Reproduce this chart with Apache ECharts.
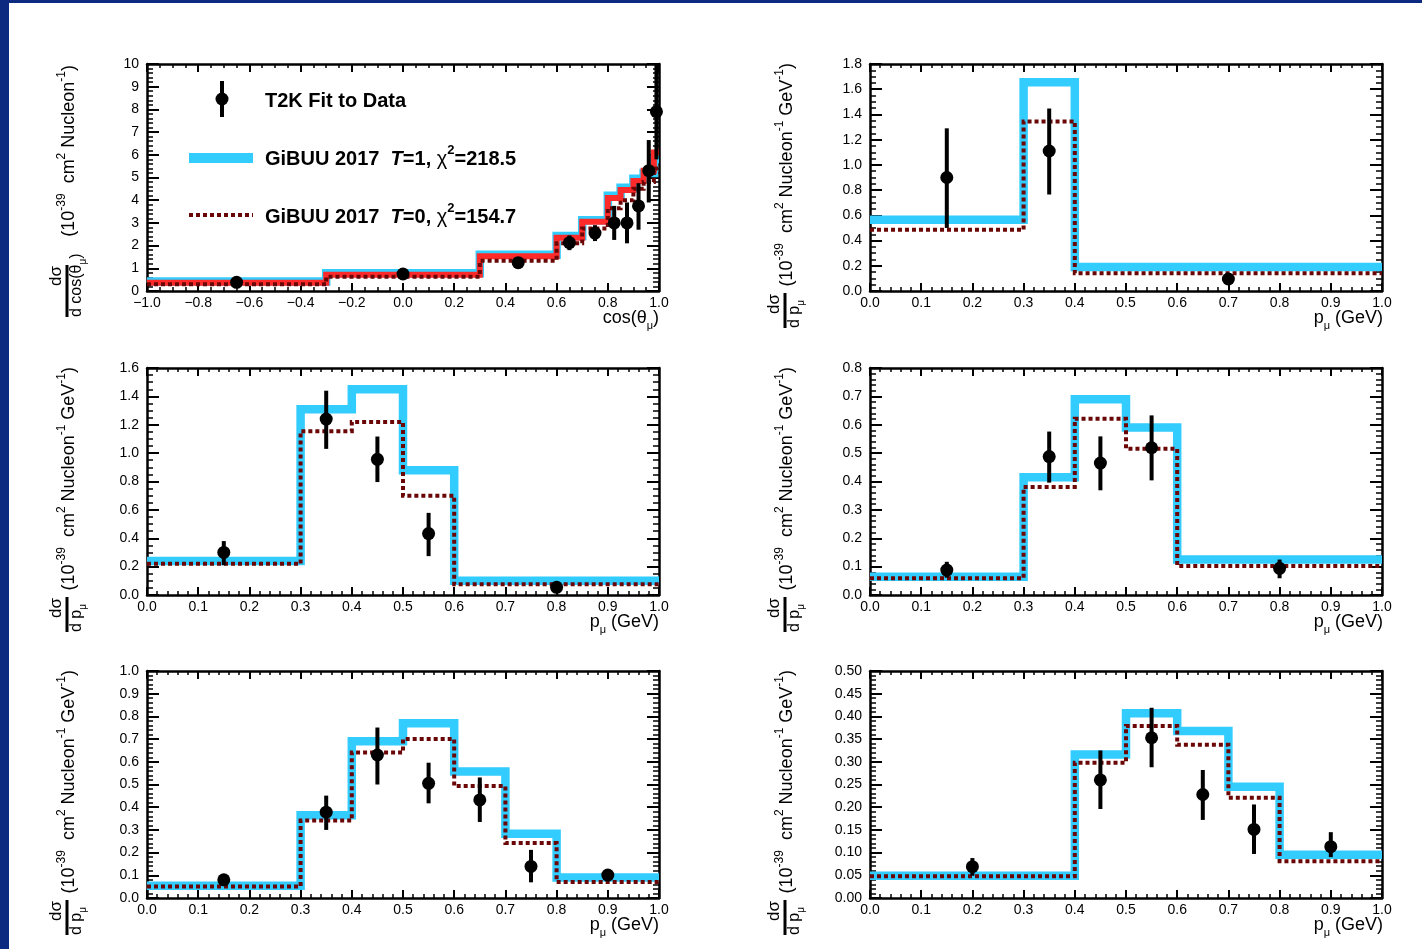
<!DOCTYPE html>
<html>
<head>
<meta charset="utf-8">
<script src="https://cdn.jsdelivr.net/npm/echarts@6/dist/echarts.min.js"></script>
<style>
html, body { margin: 0; padding: 0; background: #0b2a80; }
#frame { position: absolute; left: 9px; top: 3px; width: 1413px; height: 946px; background: #fff; }
#main { position: absolute; left: 0; top: 0; width: 1422px; height: 949px; }
</style>
</head>
<body>
<div id="frame"></div>
<div id="main"></div>
<script>
// panel 1: d sigma / d cos(theta_mu)
let cosEdges = [-1.0, -0.3, 0.3, 0.6, 0.7, 0.8, 0.85, 0.9, 0.94, 0.98, 1.0];
let cosT1 = [0.42, 0.78, 1.6, 2.42, 3.12, 4.2, 4.55, 4.95, 5.2, 5.8];
let cosRed = [0.36, 0.72, 1.53, 2.35, 3.05, 4.1, 4.45, 4.85, 5.3, 6.1];
let cosT0 = [0.3, 0.63, 1.33, 2.1, 2.75, 3.65, 4.0, 4.5, 4.8, 5.4];
let cosX = [-0.65, 0.0, 0.45, 0.65, 0.75, 0.825, 0.875, 0.92, 0.96, 0.99];
let cosY = [0.38, 0.75, 1.25, 2.13, 2.55, 3.0, 3.0, 3.75, 5.3, 7.9];
let cosLo = [0.3, 0.68, 1.15, 1.8, 2.2, 2.25, 2.1, 2.7, 3.9, 5.8];
let cosHi = [0.46, 0.82, 1.35, 2.45, 2.9, 3.75, 3.9, 4.75, 6.65, 10.0];

// panel 2: p_mu, first angular slice
let p2Edges = [0, 0.3, 0.4, 1.0];
let p2T1 = [0.565, 1.655, 0.19];
let p2T0 = [0.485, 1.345, 0.14];
let p2X = [0.15, 0.35, 0.7];
let p2Y = [0.9, 1.11, 0.095];
let p2Lo = [0.5, 0.765, 0.07];
let p2Hi = [1.29, 1.447, 0.12];

// panel 3
let p3Edges = [0, 0.3, 0.4, 0.5, 0.6, 1.0];
let p3T1 = [0.24, 1.31, 1.45, 0.88, 0.10];
let p3T0 = [0.22, 1.155, 1.22, 0.70, 0.075];
let p3X = [0.15, 0.35, 0.45, 0.55, 0.8];
let p3Y = [0.30, 1.24, 0.956, 0.433, 0.054];
let p3Lo = [0.21, 1.03, 0.796, 0.274, 0.035];
let p3Hi = [0.38, 1.44, 1.117, 0.579, 0.07];

// panel 4
let p4Edges = [0, 0.3, 0.4, 0.5, 0.6, 1.0];
let p4T1 = [0.064, 0.415, 0.69, 0.59, 0.125];
let p4T0 = [0.059, 0.381, 0.621, 0.515, 0.102];
let p4X = [0.15, 0.35, 0.45, 0.55, 0.8];
let p4Y = [0.088, 0.488, 0.465, 0.519, 0.094];
let p4Lo = [0.061, 0.396, 0.369, 0.404, 0.059];
let p4Hi = [0.117, 0.576, 0.559, 0.633, 0.125];

// panel 5
let p5Edges = [0, 0.3, 0.4, 0.5, 0.6, 0.7, 0.8, 1.0];
let p5T1 = [0.054, 0.364, 0.69, 0.77, 0.557, 0.283, 0.09];
let p5T0 = [0.051, 0.341, 0.641, 0.70, 0.493, 0.242, 0.07];
let p5X = [0.15, 0.35, 0.45, 0.55, 0.65, 0.75, 0.9];
let p5Y = [0.08, 0.378, 0.63, 0.505, 0.432, 0.139, 0.101];
let p5Lo = [0.06, 0.30, 0.50, 0.417, 0.335, 0.069, 0.085];
let p5Hi = [0.10, 0.451, 0.751, 0.596, 0.531, 0.212, 0.118];

// panel 6
let p6Edges = [0, 0.4, 0.5, 0.6, 0.7, 0.8, 1.0];
let p6T1 = [0.049, 0.316, 0.407, 0.368, 0.245, 0.095];
let p6T0 = [0.048, 0.298, 0.379, 0.3375, 0.2206, 0.081];
let p6X = [0.2, 0.45, 0.55, 0.65, 0.75, 0.9];
let p6Y = [0.069, 0.26, 0.353, 0.228, 0.151, 0.113];
let p6Lo = [0.049, 0.196, 0.288, 0.172, 0.097, 0.09];
let p6Hi = [0.088, 0.325, 0.419, 0.282, 0.206, 0.145];

// axis ranges and tick steps, panel order: TL, TR, ML, MR, BL, BR
let xMin = [-1, 0, 0, 0, 0, 0];
let xStep = [0.2, 0.1, 0.1, 0.1, 0.1, 0.1];
let xMinor = [4, 5, 5, 5, 5, 5];
let yMax = [10, 1.8, 1.6, 0.8, 1.0, 0.5];
let yStep = [1, 0.2, 0.2, 0.1, 0.1, 0.05];
let yMinor = [5, 4, 4, 5, 5, 5];
let yDec = [0, 1, 1, 1, 1, 2];

let legendText = ['T2K Fit to Data', 'GiBUU 2017  T=1, χ²=218.5', 'GiBUU 2017  T=0, χ²=154.7'];

let panels = [
    {edges: cosEdges, t1: cosT1, t0: cosT0, red: cosRed, x: cosX, y: cosY, lo: cosLo, hi: cosHi},
    {edges: p2Edges, t1: p2T1, t0: p2T0, x: p2X, y: p2Y, lo: p2Lo, hi: p2Hi},
    {edges: p3Edges, t1: p3T1, t0: p3T0, x: p3X, y: p3Y, lo: p3Lo, hi: p3Hi},
    {edges: p4Edges, t1: p4T1, t0: p4T0, x: p4X, y: p4Y, lo: p4Lo, hi: p4Hi},
    {edges: p5Edges, t1: p5T1, t0: p5T0, x: p5X, y: p5Y, lo: p5Lo, hi: p5Hi},
    {edges: p6Edges, t1: p6T1, t0: p6T0, x: p6X, y: p6Y, lo: p6Lo, hi: p6Hi}
];

let myChart = echarts.init(document.getElementById('main'));

let font = '"Liberation Sans", Arial, Helvetica, sans-serif';
let blue = '#33ccff', darkRed = '#6b0606', red = '#ff2b2b';
let gridLeft = [147, 870];
let gridTop = [64, 368, 671];
let gridW = 512, gridH = 227;

function stepData(edges, vals) {
    return edges.map((e, i) => [e, vals[Math.min(i, vals.length - 1)]]);
}

function makeAxis(gi, pos, min, max, step, minor, tickLen, dec, showLabel) {
    let horiz = pos === 'bottom' || pos === 'top';
    return {
        type: 'value', gridIndex: gi, position: pos, min: min, max: max, interval: step,
        axisLine: {show: true, onZero: false, lineStyle: {color: '#000', width: 2.5}},
        axisTick: {show: true, inside: true, length: tickLen, lineStyle: {color: '#000', width: 2}},
        minorTick: {show: true, splitNumber: minor, length: tickLen / 2, lineStyle: {color: '#000', width: 1.5}},
        splitLine: {show: false},
        axisLabel: {
            show: showLabel, color: '#000', fontFamily: font, fontSize: 14,
            margin: horiz ? 5 : 8,
            formatter: v => v.toFixed(dec).replace('-', '\u2212')
        }
    };
}

function renderErr(params, api) {
    let c = api.coord([api.value(0), api.value(1)]);
    let lo = api.coord([api.value(0), api.value(2)]);
    let hi = api.coord([api.value(0), api.value(3)]);
    return {
        type: 'group',
        children: [
            {type: 'line', shape: {x1: c[0], y1: lo[1], x2: c[0], y2: hi[1]}, style: {stroke: '#000', lineWidth: 4}},
            {type: 'circle', shape: {cx: c[0], cy: c[1], r: 6.5}, style: {fill: '#000'}}
        ]
    };
}

let supRich = {
    n: {fontSize: 18, fontFamily: font, fill: '#000', verticalAlign: 'top', padding: [5, 0, 0, 0], lineHeight: 18},
    p: {fontSize: 12, fontFamily: font, fill: '#000', verticalAlign: 'top', lineHeight: 12}
};
let fracRich = {
    f: {fontSize: 16, fontFamily: font, fill: '#000', verticalAlign: 'top', lineHeight: 16},
    s: {fontSize: 10, fontFamily: font, fill: '#000', verticalAlign: 'top', padding: [9, 0, 0, 0], lineHeight: 10}
};
let nameRich = {
    n: {fontSize: 18, fontFamily: font, fill: '#000', verticalAlign: 'top', lineHeight: 18},
    s: {fontSize: 11, fontFamily: font, fill: '#000', verticalAlign: 'top', padding: [11, 0, 0, 0], lineHeight: 11}
};

function yTitle(cx, bottom, top, denom, unit, barLen) {
    let L = bottom - top;
    return {
        type: 'group', x: cx, y: bottom, rotation: Math.PI / 2,
        children: [
            {type: 'rect', shape: {x: 0, y: -1.5, width: barLen, height: 3}, style: {fill: '#000'}},
            {type: 'text', x: barLen - 1, y: -2, style: {text: 'dσ', font: '17px ' + font, fill: '#000', align: 'right', verticalAlign: 'bottom'}},
            {type: 'text', x: 0, y: 2, style: {text: denom, rich: fracRich, align: 'left', verticalAlign: 'top'}},
            {type: 'text', x: L, y: -2.5, style: {text: unit, rich: supRich, align: 'right', verticalAlign: 'middle'}}
        ]
    };
}

let grid = [], xAxis = [], yAxis = [], series = [], graphic = [];

panels.forEach((p, i) => {
    let col = i % 2, row = Math.floor(i / 2);
    let left = gridLeft[col], top = gridTop[row];
    grid.push({left: left, top: top, width: gridW, height: gridH});
    xAxis.push(makeAxis(i, 'bottom', xMin[i], 1, xStep[i], xMinor[i], 8, 1, true));
    xAxis.push(makeAxis(i, 'top', xMin[i], 1, xStep[i], xMinor[i], 8, 1, false));
    yAxis.push(makeAxis(i, 'left', 0, yMax[i], yStep[i], yMinor[i], 12, yDec[i], true));
    yAxis.push(makeAxis(i, 'right', 0, yMax[i], yStep[i], yMinor[i], 12, yDec[i], false));

    let ax = {xAxisIndex: 2 * i, yAxisIndex: 2 * i};
    series.push(Object.assign({
        type: 'line', step: 'end', symbol: 'none', z: 2, animation: false,
        data: stepData(p.edges, p.t1),
        lineStyle: {color: blue, width: 8.5, join: 'miter'}
    }, ax));
    if (p.red) {
        series.push(Object.assign({
            type: 'line', step: 'end', symbol: 'none', z: 3, animation: false,
            data: stepData(p.edges, p.red),
            lineStyle: {color: red, width: 6, join: 'miter'}
        }, ax));
    }
    series.push(Object.assign({
        type: 'line', step: 'end', symbol: 'none', z: 4, animation: false,
        data: stepData(p.edges, p.t0),
        lineStyle: {color: darkRed, width: 4, type: [4, 3], join: 'miter'}
    }, ax));
    series.push(Object.assign({
        type: 'custom', z: 5, animation: false,
        data: p.x.map((x, k) => [x, p.y[k], p.lo[k], p.hi[k]]),
        renderItem: renderErr
    }, ax));

    // axis titles
    let right = left + gridW + (col ? 1 : 0);
    let bottom = top + gridH;
    graphic.push({
        type: 'text', x: right, y: bottom + 18,
        style: {text: i === 0 ? '{n|cos(θ}{s|μ}{n|)}' : '{n|p}{s|μ}{n| (GeV)}', rich: nameRich, align: 'right', verticalAlign: 'top'}
    });
    let cx = col ? 785 : 67;
    if (i === 0) {
        graphic.push(yTitle(cx, 317, 65, '{f|d cos(θ}{s|μ}{f|)}', '{n|(10}{p|-39}{n|  cm}{p|2}{n| Nucleon}{p|-1}{n|)}', 52));
    } else {
        graphic.push(yTitle(cx, bottom + 37, top - 1, '{f|d p}{s|μ}', '{n|(10}{p|-39}{n|  cm}{p|2}{n| Nucleon}{p|-1}{n| GeV}{p|-1}{n|)}', 35));
    }
});

// legend of the first panel
let legRich = {
    b: {fontSize: 20, fontFamily: font, fontWeight: 'bold', fill: '#000', verticalAlign: 'top', padding: [5, 0, 0, 0], lineHeight: 20},
    i: {fontSize: 20, fontFamily: font, fontWeight: 'bold', fontStyle: 'italic', fill: '#000', verticalAlign: 'top', padding: [5, 0, 0, 0], lineHeight: 20},
    c: {fontSize: 20, fontFamily: font, fill: '#000', verticalAlign: 'top', padding: [5, 0, 0, 0], lineHeight: 20},
    sp: {fontSize: 13, fontFamily: font, fontWeight: 'bold', fill: '#000', verticalAlign: 'top', lineHeight: 13}
};
function legendRichText(s) {
    let m = s.match(/^(.*?)T(=\d, )χ²(.*)$/);
    if (!m) return '{b|' + s + '}';
    return '{b|' + m[1] + '}{i|T}{b|' + m[2] + '}{c|χ}{sp|2}{b|' + m[3] + '}';
}
graphic.push(
    {type: 'line', shape: {x1: 222, y1: 81, x2: 222, y2: 117}, style: {stroke: '#000', lineWidth: 4}},
    {type: 'circle', shape: {cx: 222, cy: 99, r: 6.5}, style: {fill: '#000'}},
    {type: 'rect', shape: {x: 189, y: 153, width: 64, height: 10}, style: {fill: blue}},
    {type: 'line', shape: {x1: 189, y1: 215, x2: 253, y2: 215}, style: {stroke: darkRed, lineWidth: 4, lineDash: [4, 3]}}
);
[99, 157, 215].forEach((yy, k) => {
    graphic.push({type: 'text', x: 265, y: yy - 3, style: {text: legendRichText(legendText[k]), rich: legRich, align: 'left', verticalAlign: 'middle'}});
});

let option = {
    backgroundColor: 'transparent',
    animation: false,
    grid: grid,
    xAxis: xAxis,
    yAxis: yAxis,
    series: series,
    graphic: graphic
};

myChart.setOption(option);
</script>
</body>
</html>
